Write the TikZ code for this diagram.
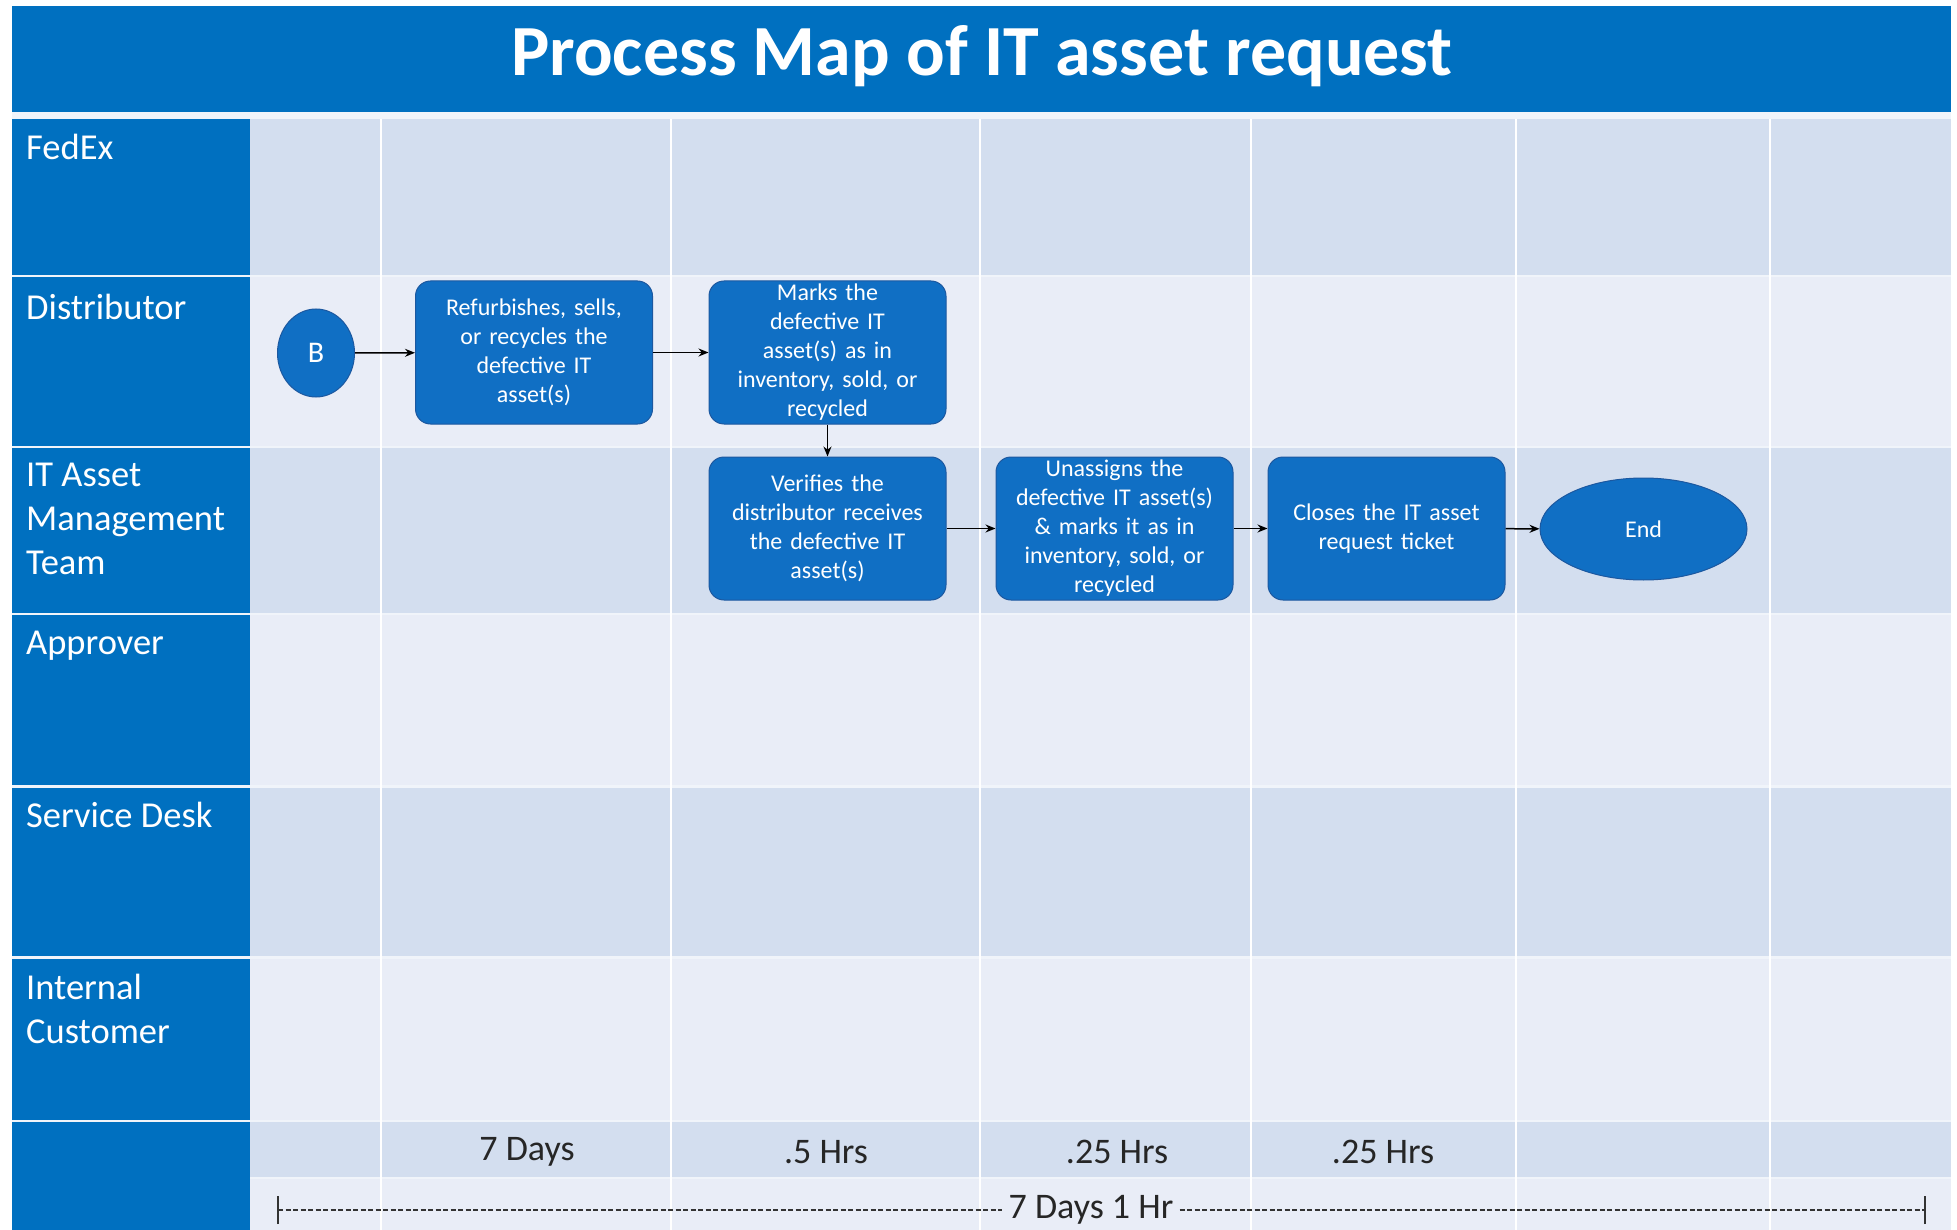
\documentclass[tikz,border=0pt]{standalone}
\usepackage{fontspec}
\setmainfont{Carlito}
\usetikzlibrary{arrows.meta,shapes.geometric}
\definecolor{hdrblue}{RGB}{0,112,192}
\definecolor{shapeblue}{RGB}{16,111,196}
\definecolor{shapeedge}{RGB}{28,88,160}
\definecolor{rowdark}{RGB}{211,222,239}
\definecolor{rowlight}{RGB}{233,237,247}
\definecolor{gapcol}{RGB}{240,244,250}
\tikzset{
  lanelabel/.style={anchor=north west, inner sep=0pt, text=white, align=left,
    font=\fontsize{36.5}{44}\selectfont},
  procbox/.style={rectangle, rounded corners=15pt, fill=shapeblue, draw=shapeedge,
    line width=1pt, minimum width=237pt, minimum height=143pt, text width=229pt,
    align=center, text=white, inner sep=2pt, font=\fontsize{24}{29}\selectfont},
  termnode/.style={ellipse, fill=shapeblue, draw=shapeedge, line width=1pt,
    text=white, inner sep=0pt},
  flow/.style={-{Stealth[length=10pt,width=8pt]}, line width=1.5pt, black},
  timelabel/.style={inner sep=0pt, text=black!85, font=\fontsize{36}{42}\selectfont},
  colline/.style={white, line width=2.5pt}
}
\begin{document}
\begin{tikzpicture}[x=1pt,y=-1pt]
\useasboundingbox (0,0) rectangle (1957,1230);
\fill[white] (0,0) rectangle (1957,1230);
% title
\fill[hdrblue] (12,6) rectangle (1951,112);
\node[font=\fontsize{72}{84}\selectfont\bfseries, text=white] (title) at (982,56) {Process Map of IT asset request};
% gap strip
\fill[gapcol] (12,112) rectangle (1951,1230);
% lane rows
\fill[rowdark]  (250,119)   rectangle (1951,275);
\fill[rowlight] (250,277)   rectangle (1951,446);
\fill[rowdark]  (250,448)   rectangle (1951,613);
\fill[rowlight] (250,615)   rectangle (1951,785);
\fill[rowdark]  (250,787.5) rectangle (1951,956);
\fill[rowlight] (250,958.5) rectangle (1951,1120);
\fill[rowdark]  (250,1122)  rectangle (1951,1177);
\fill[rowlight] (250,1179)  rectangle (1951,1230);
% left header cells
\fill[hdrblue] (12,119)   rectangle (250,275);
\fill[hdrblue] (12,277)   rectangle (250,446);
\fill[hdrblue] (12,448)   rectangle (250,613);
\fill[hdrblue] (12,615)   rectangle (250,785);
\fill[hdrblue] (12,787.5) rectangle (250,956);
\fill[hdrblue] (12,958.5) rectangle (250,1120);
\fill[hdrblue] (12,1122)  rectangle (250,1230);
% column lines
\foreach \cx in {381,671,980,1251,1516,1770}
  \draw[colline] (\cx,119) -- (\cx,1230);
% lane labels
\node[lanelabel] (lfedex) at (26,134) {FedEx};
\node[lanelabel] (ldist) at (26,294) {Distributor};
\node[lanelabel] (litam) at (26,463) {IT Asset\\Management\\Team};
\node[lanelabel] (lappr) at (26,631) {Approver};
\node[lanelabel] (lsd) at (26,802) {Service Desk};
\node[lanelabel] (lic) at (26,974) {Internal\\Customer};
% flow nodes
\node[termnode, minimum width=77pt, minimum height=88pt, font=\fontsize{30}{36}\selectfont] (B) at (316,353) {B};
\node[procbox] (refurb) at (534,352.5) {Refurbishes, sells,\\or recycles the\\defective IT\\asset(s)};
\node[procbox] (marks) at (827.5,352.5) {Marks the\\defective IT\\asset(s) as in\\inventory, sold, or\\recycled};
\node[procbox] (verify) at (827.5,528.5) {Verifies the\\distributor receives\\the defective IT\\asset(s)};
\node[procbox] (unassign) at (1114.5,528.5) {Unassigns the\\defective IT asset(s)\\\& marks it as in\\inventory, sold, or\\recycled};
\node[procbox] (closes) at (1386.5,528.5) {Closes the IT asset\\request ticket};
\node[termnode, minimum width=207pt, minimum height=102pt, font=\fontsize{24}{28}\selectfont] (endn) at (1643.5,529) {End};
% connectors
\draw[flow] (B) -- (refurb);
\draw[flow] (refurb) -- (marks);
\draw[flow] (marks) -- (verify);
\draw[flow] (verify) -- (unassign);
\draw[flow] (unassign) -- (closes);
\draw[flow] (closes) -- (endn);
% time labels
\node[timelabel] (t1) at (527,1152) {7 Days};
\node[timelabel] (t2) at (826,1152) {.5 Hrs};
\node[timelabel] (t3) at (1117,1152) {.25 Hrs};
\node[timelabel] (t4) at (1383,1152) {.25 Hrs};
% total line
\coordinate (tl) at (278,1210);
\coordinate (tr) at (1925,1210);
\node[timelabel, inner sep=6pt] (total) at (1091,1210) {7 Days 1 Hr};
\draw[black!80, line width=1.2pt, dash pattern=on 5pt off 2.5pt] (tl) -- (total.west);
\draw[black!80, line width=1.2pt, dash pattern=on 5pt off 2.5pt] (total.east) -- (tr);
\draw[black!80, line width=1.5pt] ([yshift=-14pt]tl) -- ([yshift=14pt]tl);
\draw[black!80, line width=1.5pt] ([yshift=-14pt]tr) -- ([yshift=14pt]tr);
\end{tikzpicture}
\end{document}
